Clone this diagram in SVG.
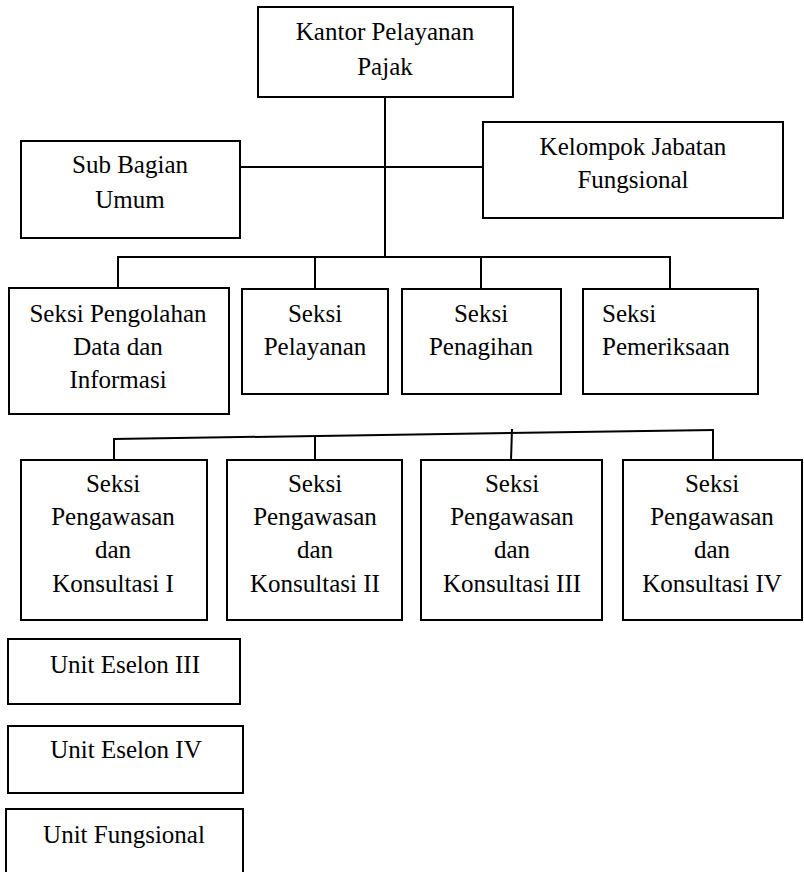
<svg xmlns="http://www.w3.org/2000/svg" width="804" height="872" viewBox="0 0 804 872">
<style>
rect{fill:#fff;stroke:#000;stroke-width:2}
.c line{stroke:#000;stroke-width:2}
text{font-family:'Liberation Serif','Times New Roman',Times,serif;font-size:25px;fill:#000;text-anchor:middle}
</style>
<rect x="0" y="0" width="804" height="872" style="stroke:none"/>
<g class="c" id="connectors">
<line x1="385" y1="97" x2="385" y2="257"/>
<line x1="240" y1="167" x2="483" y2="167"/>
<line x1="117" y1="257" x2="671" y2="257"/>
<line x1="118" y1="257" x2="118" y2="288"/>
<line x1="315" y1="257" x2="315" y2="289"/>
<line x1="481" y1="257" x2="481" y2="289"/>
<line x1="670" y1="257" x2="670" y2="289"/>
<line x1="113" y1="439" x2="714" y2="430"/>
<line x1="114" y1="439" x2="114" y2="460"/>
<line x1="315" y1="436" x2="315" y2="460"/>
<line x1="512" y1="429" x2="511" y2="460"/>
<line x1="713" y1="430" x2="713" y2="460"/>
</g>
<g font-family="Liberation Serif, serif">
<g id="kpp"><rect x="258" y="7" width="255" height="90"/><text x="385" y="40">Kantor Pelayanan</text><text x="385" y="75">Pajak</text></g>
<g id="sub-bagian-umum"><rect x="21" y="141" width="219" height="97"/><text x="130" y="173">Sub Bagian</text><text x="130" y="208">Umum</text></g>
<g id="kelompok-jabatan"><rect x="483" y="122" width="300" height="96"/><text x="633" y="155">Kelompok Jabatan</text><text x="633" y="188">Fungsional</text></g>
<g id="seksi-pdi"><rect x="9" y="288" width="220" height="126"/><text x="118" y="322">Seksi Pengolahan</text><text x="118" y="355">Data dan</text><text x="118" y="388">Informasi</text></g>
<g id="seksi-pelayanan"><rect x="242" y="289" width="146" height="105"/><text x="315" y="322">Seksi</text><text x="315" y="355">Pelayanan</text></g>
<g id="seksi-penagihan"><rect x="402" y="289" width="159" height="105"/><text x="481" y="322">Seksi</text><text x="481" y="355">Penagihan</text></g>
<g id="seksi-pemeriksaan"><rect x="583" y="289" width="175" height="105"/><text x="602" y="322" style="text-anchor:start">Seksi</text><text x="602" y="355" style="text-anchor:start">Pemeriksaan</text></g>
<g id="pk1"><rect x="21" y="460" width="186" height="160"/><text x="113" y="492">Seksi</text><text x="113" y="525">Pengawasan</text><text x="113" y="558">dan</text><text x="113" y="592">Konsultasi I</text></g>
<g id="pk2"><rect x="227" y="460" width="175" height="160"/><text x="315" y="492">Seksi</text><text x="315" y="525">Pengawasan</text><text x="315" y="558">dan</text><text x="315" y="592">Konsultasi II</text></g>
<g id="pk3"><rect x="421" y="460" width="181" height="160"/><text x="512" y="492">Seksi</text><text x="512" y="525">Pengawasan</text><text x="512" y="558">dan</text><text x="512" y="592">Konsultasi III</text></g>
<g id="pk4"><rect x="623" y="460" width="179" height="160"/><text x="712" y="492">Seksi</text><text x="712" y="525">Pengawasan</text><text x="712" y="558">dan</text><text x="712" y="592">Konsultasi IV</text></g>
<g id="unit-eselon-iii"><rect x="8" y="639" width="232" height="65"/><text x="125" y="673">Unit Eselon III</text></g>
<g id="unit-eselon-iv"><rect x="8" y="726" width="235" height="67"/><text x="126" y="758">Unit Eselon IV</text></g>
<g id="unit-fungsional"><rect x="6" y="809" width="237" height="80"/><text x="124" y="843">Unit Fungsional</text></g>
</g>
</svg>
